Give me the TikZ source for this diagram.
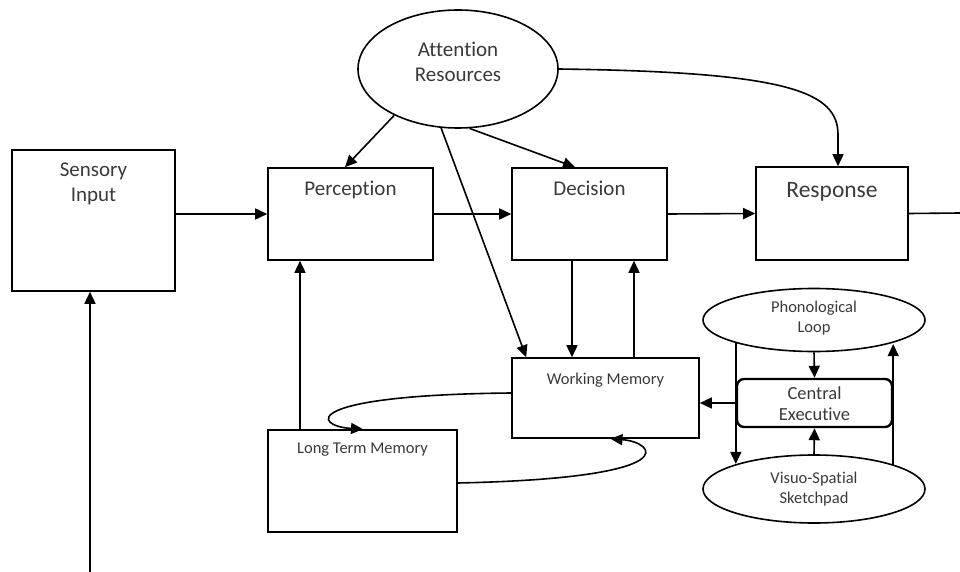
\documentclass[tikz,border=0pt]{standalone}
\usepackage{fontspec}
\setmainfont{Carlito}[Ligatures=NoCommon]
\usetikzlibrary{arrows.meta,shapes.geometric,calc}
\definecolor{ink}{HTML}{3A3A3A}
\begin{document}
\begin{tikzpicture}[x=1pt,y=-1pt,
  line width=1.6pt,
  txt/.style={text=ink,font=\fontsize{21}{25}\selectfont,align=center,inner sep=0pt},
  big/.style={text=ink,font=\fontsize{23.5}{28}\selectfont,align=center,inner sep=0pt},
  mid/.style={text=ink,font=\fontsize{18.5}{21}\selectfont,align=center,inner sep=0pt},
  small/.style={text=ink,font=\fontsize{16.5}{20}\selectfont,align=center,inner sep=0pt},
  blk/.style={draw,rectangle,inner sep=0pt,fill=white},
  oval/.style={draw,ellipse,inner sep=0pt,fill=white},
  arr/.style={-{Triangle[length=12pt,width=11pt]}},
]
\useasboundingbox[fill=white] (0,0) rectangle (960,572);

% processing stages
\node[blk,minimum width=163pt,minimum height=141pt,
  label={[txt,anchor=center,yshift=-35pt]north:Sensory\\Input}] (sens) at (93.5,220.5) {};
\node[blk,minimum width=165pt,minimum height=92pt,
  label={[txt,anchor=center,yshift=-23pt]north:Perception}] (perc) at (350.5,214) {};
\node[blk,minimum width=155pt,minimum height=92pt,
  label={[txt,anchor=center,yshift=-21pt]north:Decision}] (dec) at (589.5,214) {};
\node[blk,minimum width=152pt,minimum height=93pt,
  label={[big,anchor=center,yshift=-26pt]north:Response}] (resp) at (832,213.5) {};

% memory stores
\node[blk,minimum width=187pt,minimum height=80pt,
  label={[small,anchor=center,yshift=-23pt]north:Working Memory}] (wm) at (605.5,398) {};
\node[blk,minimum width=189pt,minimum height=102pt,
  label={[small,anchor=center,yshift=-20pt]north:Long Term Memory}] (ltm) at (362.5,481) {};

% attention
\node[oval,minimum width=200pt,minimum height=118pt,
  label={[txt,anchor=center,yshift=7.5pt]center:Attention\\Resources}] (att) at (458,69) {};

% working memory components
\node[oval,minimum width=222pt,minimum height=63pt,
  label={[small,anchor=center,yshift=2pt]center:Phonological\\Loop}] (pl) at (814,320) {};
\node[draw,rectangle,rounded corners=7pt,line width=2.4pt,inner sep=0pt,
  minimum width=155pt,minimum height=48pt,
  label={[mid,anchor=center,yshift=-1pt]center:Central\\Executive}] (ce) at (814.5,403) {};
\node[oval,minimum width=222pt,minimum height=68pt,
  label={[small,anchor=center]center:Visuo-Spatial\\Sketchpad}] (vs) at (814,489) {};

% free ends at the page edges
\coordinate (in) at (90,572);
\coordinate (out) at (960,213);

% main flow
\draw[arr] (sens.east |- perc.west) -- (perc.west);
\draw[arr] (perc.east) -- (dec.west);
\draw[arr] (dec.east) -- (resp.west);
\draw (resp.east) -- (out);
\draw[arr] (in) -- (in |- sens.south);

% attention allocation
\draw[arr] (att.216) -- ([xshift=-5.5pt]perc.north);
\draw[arr] (att.281.5) -- ([xshift=-14.5pt]dec.north);
\draw[arr] (att.254.8) -- ([xshift=15pt]wm.north west);
\draw[arr] (att.east) .. controls (790,72) and (838,92) .. (838,135)
  -- ([xshift=6pt]resp.north);

% decision <-> working memory
\draw[arr] ([xshift=-17.5pt]dec.south) -- ([xshift=-17.5pt]dec.south |- wm.north);
\draw[arr] ([xshift=44.5pt]dec.south |- wm.north) -- ([xshift=44.5pt]dec.south);

% long term memory links
\draw[arr] ([xshift=-50.5pt]perc.south |- ltm.north) -- ([xshift=-50.5pt]perc.south);
\draw[arr] (wm.west |- 0,393) .. controls (300,395) and (312,426) .. ([xshift=0.5pt]ltm.north);
\draw[arr] (ltm.east |- 0,483) .. controls (690,478) and (655,442) .. ([xshift=5pt]wm.south);

% central executive loops
\draw[arr] (pl.south) -- (ce.north);
\draw[arr] (vs.north) -- (ce.south);
\draw[arr] (ce.west |- pl.196.6) -- (ce.west |- vs.162.4);
\draw[arr] (ce.east |- vs.17.6) -- (ce.east |- pl.342.2);
\draw[arr] (ce.west) -- (wm.east |- ce.west);
\end{tikzpicture}
\end{document}
